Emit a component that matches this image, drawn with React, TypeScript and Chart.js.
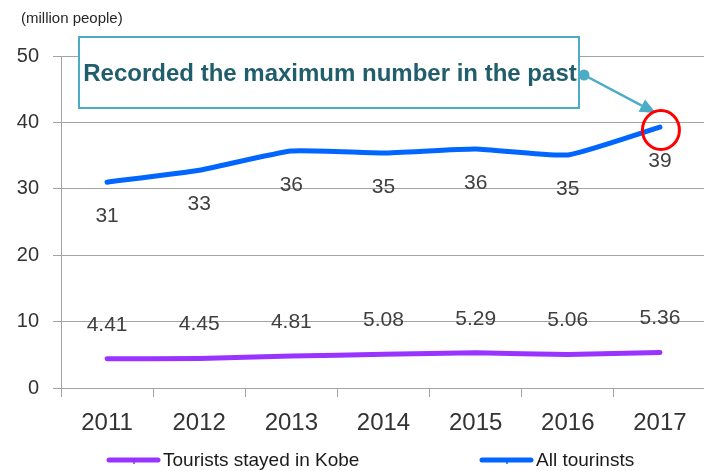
import { useEffect, useRef } from "react";
import { Chart, registerables } from "chart.js";

Chart.register(...registerables);

// ---- data ----
const years = ["2011", "2012", "2013", "2014", "2015", "2016", "2017"];
const allTourists = [31.0, 32.8, 35.7, 35.4, 36.0, 35.1, 39.3];
const allTouristsLabels = ["31", "33", "36", "35", "36", "35", "39"];
const stayedInKobe = [4.41, 4.45, 4.81, 5.08, 5.29, 5.06, 5.36];
const stayedInKobeLabels = ["4.41", "4.45", "4.81", "5.08", "5.29", "5.06", "5.36"];
const yTicks = [0, 10, 20, 30, 40, 50];
const seriesNames = ["Tourists stayed in Kobe", "All tourinsts"];
const unitLabel = "(million people)";
const calloutText = "Recorded the maximum number in the past";

// ---- styles ----
const PURPLE = "#9933ff";
const BLUE = "#0066ff";
const TEAL = "#4bacc6";
const TEAL_TEXT = "#215e6b";
const GRID = "#a3a3a3";
const TEXT = "#404040";
const FONT = "'Liberation Sans', Arial, sans-serif";

const overlayPlugin = {
  id: "overlay",
  afterDatasetsDraw(chart: any) {
    const ctx = chart.ctx as CanvasRenderingContext2D;
    ctx.save();
    // data labels
    const labelSets = [
      { idx: 0, labels: stayedInKobeLabels, dy: -34 },
      { idx: 1, labels: allTouristsLabels, dy: 34 },
    ];
    ctx.font = `21px ${FONT}`;
    ctx.fillStyle = TEXT;
    ctx.textAlign = "center";
    ctx.textBaseline = "middle";
    for (const s of labelSets) {
      const meta = chart.getDatasetMeta(s.idx);
      meta.data.forEach((p: any, i: number) => {
        ctx.fillText(s.labels[i], p.x, p.y + s.dy);
      });
    }

    // unit label
    ctx.font = `15px ${FONT}`;
    ctx.fillStyle = "#262626";
    ctx.textAlign = "left";
    ctx.fillText(unitLabel, 21, 19);

    // callout box
    const bx = 79, by = 37, bw = 500, bh = 71;
    ctx.fillStyle = "#ffffff";
    ctx.fillRect(bx, by, bw, bh);
    ctx.strokeStyle = TEAL;
    ctx.lineWidth = 2;
    ctx.strokeRect(bx, by, bw, bh);
    ctx.font = `bold 24px ${FONT}`;
    ctx.fillStyle = TEAL_TEXT;
    ctx.textAlign = "center";
    ctx.fillText(calloutText, bx + bw / 2 + 1, by + 37, bw - 4);

    // connector arrow to the 2017 point
    const blueMeta = chart.getDatasetMeta(1);
    const last = blueMeta.data[blueMeta.data.length - 1];
    const sx = bx + bw + 5, sy = by + 38;
    const tx = last.x - 4, ty = last.y - 14;
    ctx.fillStyle = TEAL;
    ctx.beginPath();
    ctx.arc(sx, sy, 5.5, 0, Math.PI * 2);
    ctx.fill();
    const ang = Math.atan2(ty - sy, tx - sx);
    const headLen = 16, headW = 7;
    const hx = tx - Math.cos(ang) * headLen, hy = ty - Math.sin(ang) * headLen;
    ctx.strokeStyle = TEAL;
    ctx.lineWidth = 2.5;
    ctx.beginPath();
    ctx.moveTo(sx, sy);
    ctx.lineTo(hx, hy);
    ctx.stroke();
    ctx.beginPath();
    ctx.moveTo(tx, ty);
    ctx.lineTo(hx + Math.sin(ang) * headW, hy - Math.cos(ang) * headW);
    ctx.lineTo(hx - Math.sin(ang) * headW, hy + Math.cos(ang) * headW);
    ctx.closePath();
    ctx.fill();

    // red circle
    ctx.strokeStyle = "#ff0000";
    ctx.lineWidth = 3;
    ctx.beginPath();
    ctx.ellipse(last.x + 1, last.y + 3, 18.5, 19.5, 0, 0, Math.PI * 2);
    ctx.stroke();

    // legend
    const items = [
      { x: 107, color: PURPLE, text: seriesNames[0] },
      { x: 480, color: BLUE, text: seriesNames[1] },
    ];
    const ly = 460;
    ctx.font = `19px ${FONT}`;
    ctx.textAlign = "left";
    ctx.textBaseline = "middle";
    for (const it of items) {
      ctx.strokeStyle = it.color;
      ctx.lineWidth = 5;
      ctx.lineCap = "round";
      ctx.beginPath();
      ctx.moveTo(it.x + 2, ly);
      ctx.lineTo(it.x + 51, ly);
      ctx.stroke();
      ctx.lineWidth = 1.5;
      ctx.lineCap = "butt";
      ctx.beginPath();
      ctx.moveTo(it.x + 27, ly);
      ctx.lineTo(it.x + 27, ly + 4);
      ctx.stroke();
      ctx.fillStyle = "#1a1a1a";
      ctx.fillText(it.text, it.x + 56, ly + 1);
    }
    ctx.restore();
  },
};

export default function App() {
  const ref = useRef<HTMLCanvasElement | null>(null);
  useEffect(() => {
    document.body.style.margin = "0";
    const canvas = ref.current!;
    const chart = new Chart(canvas, {
      type: "line",
      data: {
        labels: years,
        datasets: [
          {
            label: seriesNames[0],
            data: stayedInKobe,
            borderColor: PURPLE,
            backgroundColor: PURPLE,
            borderWidth: 5,
            pointRadius: 0,
            tension: 0.15,
            borderCapStyle: "round",
          },
          {
            label: seriesNames[1],
            data: allTourists,
            borderColor: BLUE,
            backgroundColor: BLUE,
            borderWidth: 5,
            pointRadius: 0,
            tension: 0.15,
            borderCapStyle: "round",
          },
        ],
      },
      options: {
        animation: false,
        responsive: false,
        layout: { padding: { top: 56, left: 0, right: 6, bottom: 0 } },
        plugins: {
          legend: { display: false },
          tooltip: { enabled: false },
        },
        scales: {
          x: {
            offset: true,
            grid: {
              offset: true,
              drawOnChartArea: false,
              tickLength: 9,
              color: GRID,
            },
            border: { color: GRID, width: 1 },
            ticks: {
              padding: 12,
              color: "#333333",
              font: { family: FONT, size: 24 },
              maxRotation: 0,
            },
            afterFit: (s: any) => {
              s.height = 83;
            },
          },
          y: {
            min: 0,
            max: 50,
            grid: { color: GRID, tickLength: 8 },
            border: { color: GRID, width: 1 },
            ticks: {
              padding: 14,
              color: "#333333",
              font: { family: FONT, size: 20 },
            },
            afterBuildTicks: (s: any) => {
              s.ticks = yTicks.map((v) => ({ value: v }));
            },
            afterFit: (s: any) => {
              s.width = 61;
            },
          },
        },
      },
      plugins: [overlayPlugin],
    } as any);
    return () => chart.destroy();
  }, []);
  return (
    <div style={{ width: 704, height: 471, overflow: "hidden", position: "relative", background: "#fff" }}>
      <canvas ref={ref} width={712} height={471} style={{ display: "block", width: 712, height: 471 }} />
    </div>
  );
}
